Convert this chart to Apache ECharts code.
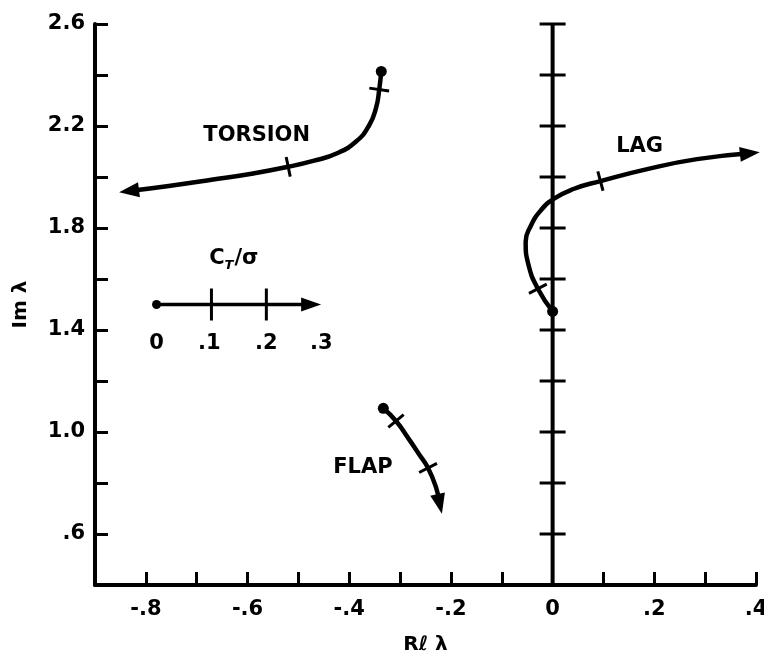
<!DOCTYPE html>
<html>
<head>
<meta charset="utf-8">
<script src="https://cdn.jsdelivr.net/npm/echarts@6/dist/echarts.min.js"></script>
<style>
  html, body { margin: 0; padding: 0; background: #fff; }
  #chart { width: 764px; height: 660px; }
</style>
</head>
<body>
<div id="chart"></div>
<script>
// root locus branches (Re, Im), first point = C_T/sigma 0, last point = arrow
const torsion = [[-0.337, 2.414], [-0.341, 2.343], [-0.347, 2.273], [-0.361, 2.202], [-0.386, 2.140],
  [-0.425, 2.092], [-0.469, 2.064], [-0.520, 2.040], [-0.592, 2.013], [-0.671, 1.989],
  [-0.755, 1.965], [-0.833, 1.945]]
const lag = [[0.0, 1.473], [-0.029, 1.562], [-0.047, 1.652], [-0.053, 1.746], [-0.043, 1.808],
  [-0.024, 1.867], [0.002, 1.914], [0.041, 1.953], [0.094, 1.984], [0.186, 2.031],
  [0.284, 2.070], [0.388, 2.093]]
const flap = [[-0.333, 1.093], [-0.308, 1.043], [-0.284, 0.976], [-0.263, 0.914], [-0.245, 0.859],
  [-0.229, 0.781], [-0.222, 0.718]]
// indices of the C_T/sigma = .1 and .2 marks on each branch
const torsionMarks = [1, 7]
const lagMarks = [1, 8]
const flapMarks = [1, 4]

const branchNames = [
  { name: 'TORSION', value: [-0.582, 2.164] },
  { name: 'LAG', value: [0.171, 2.121] },
  { name: 'FLAP', value: [-0.373, 0.859] }
]

// imaginary axis drawn at Re = 0
const zeroAxis = [[0, 0.4], [0, 2.6]]
const zeroTicks = [0.6, 0.8, 1.0, 1.2, 1.4, 1.6, 1.8, 2.0, 2.2, 2.4, 2.6]

// C_T/sigma scale inset
const scaleLine = [[-0.779, 1.5], [-0.475, 1.5]]
const scaleTicks = [-0.671, -0.563]
const scaleLabels = [
  { name: '0', value: [-0.779, 1.347] },
  { name: '.1', value: [-0.675, 1.347] },
  { name: '.2', value: [-0.563, 1.347] },
  { name: '.3', value: [-0.455, 1.347] }
]

const FONT = 'DejaVu Sans'
const chart = echarts.init(document.getElementById('chart'))

const fmtX = v => {
  const r = Math.round(v * 10)
  if (r % 2 !== 0) return ''
  if (r === 0) return '0'
  return (r < 0 ? '-' : '') + '.' + Math.abs(r)
}
const fmtY = v => {
  const r = Math.round(v * 10)
  if ((r - 6) % 4 !== 0) return ''
  if (r < 10) return '.' + r
  return (r / 10).toFixed(1)
}

const black = { color: '#000', opacity: 1 }
const textStyle = { fontFamily: FONT, fontWeight: 'bold', fontSize: 21, color: '#000', textBorderWidth: 0 }

const branchLine = data => ({
  type: 'line',
  data,
  smooth: 0.5,
  symbol: 'none',
  clip: false,
  lineStyle: { color: '#000', width: 4.5 },
  z: 3
})

const dots = (data, size, extra) => Object.assign({
  type: 'scatter',
  data,
  symbol: 'circle',
  symbolSize: size,
  itemStyle: black,
  z: 4
}, extra)

chart.setOption({
  animation: false,
  backgroundColor: '#fff',
  grid: { left: 95, right: 8, top: 24, bottom: 75, outerBoundsMode: 'none', containLabel: false },
  xAxis: {
    type: 'value',
    min: -0.9,
    max: 0.4,
    interval: 0.1,
    name: 'Rℓ λ',
    nameLocation: 'middle',
    nameGap: 50,
    nameTextStyle: { fontFamily: FONT, fontWeight: 'bold', fontSize: 20, color: '#000' },
    axisLine: { onZero: false, lineStyle: { color: '#000', width: 4 } },
    axisTick: { inside: true, length: 13, lineStyle: { color: '#000', width: 3 } },
    axisLabel: Object.assign({ formatter: fmtX, margin: 14, showMinLabel: true, showMaxLabel: true }, textStyle),
    splitLine: { show: false }
  },
  yAxis: {
    type: 'value',
    min: 0.4,
    max: 2.6,
    interval: 0.2,
    name: 'Im λ',
    nameLocation: 'middle',
    nameRotate: 90,
    nameGap: 64,
    nameTextStyle: { fontFamily: FONT, fontWeight: 'bold', fontSize: 20, color: '#000' },
    axisLine: { onZero: false, lineStyle: { color: '#000', width: 4 } },
    axisTick: { inside: true, length: 13, lineStyle: { color: '#000', width: 3 } },
    axisLabel: Object.assign({ formatter: fmtY, margin: 10 }, textStyle),
    splitLine: { show: false }
  },
  series: [
    {
      type: 'line',
      data: zeroAxis,
      symbol: 'none',
      lineStyle: { color: '#000', width: 4 },
      z: 2
    },
    dots(zeroTicks.map(v => [0, v]), [26, 3], { symbol: 'rect', z: 2 }),
    branchLine(torsion),
    branchLine(lag),
    branchLine(flap),
    dots([torsion[0], lag[0], flap[0]], 11),
    {
      type: 'line',
      data: scaleLine,
      symbol: 'none',
      lineStyle: { color: '#000', width: 3.5 },
      z: 3
    },
    dots([scaleLine[0]], 9),
    dots(scaleTicks.map(x => [x, scaleLine[0][1]]), [3, 32], { symbol: 'rect' }),
    dots([{ value: scaleLine[1], symbolRotate: -90 }], [14, 20], { symbol: 'triangle' }),
    dots(scaleLabels, 0, {
      label: Object.assign({ show: true, position: 'inside', formatter: '{b}' }, textStyle)
    }),
    dots([{ name: 'ct', value: [-0.627, 1.679] }], 0, {
      label: {
        show: true, position: 'inside',
        formatter: '{c|C}{s|T}{c|/σ}',
        rich: {
          c: textStyle,
          s: { fontFamily: FONT, fontWeight: 'bold', fontStyle: 'italic', fontSize: 13, color: '#000', padding: [14, 1, 0, 0] }
        }
      }
    }),
    dots(branchNames, 0, {
      label: Object.assign({ show: true, position: 'inside', formatter: '{b}' }, textStyle)
    })
  ]
})

// marks and arrow heads follow the local direction of each branch on screen
const angleAt = (curve, i) => {
  const a = chart.convertToPixel({ gridIndex: 0 }, curve[Math.max(i - 1, 0)])
  const b = chart.convertToPixel({ gridIndex: 0 }, curve[Math.min(i + 1, curve.length - 1)])
  return Math.atan2(-(b[1] - a[1]), b[0] - a[0]) * 180 / Math.PI
}

const markData = []
const arrowData = []
;[[torsion, torsionMarks], [lag, lagMarks], [flap, flapMarks]].forEach(([curve, marks]) => {
  marks.forEach(i => markData.push({ value: curve[i], symbolRotate: angleAt(curve, i) }))
  const n = curve.length - 1
  arrowData.push({ value: curve[n], symbolRotate: angleAt(curve, n) - 90 })
})

const opt = chart.getOption()
opt.series.push(dots(markData, [3, 20], { symbol: 'rect' }))
opt.series.push(dots(arrowData, [15, 20], { symbol: 'triangle', clip: false }))
chart.setOption({ series: opt.series })
</script>
</body>
</html>
